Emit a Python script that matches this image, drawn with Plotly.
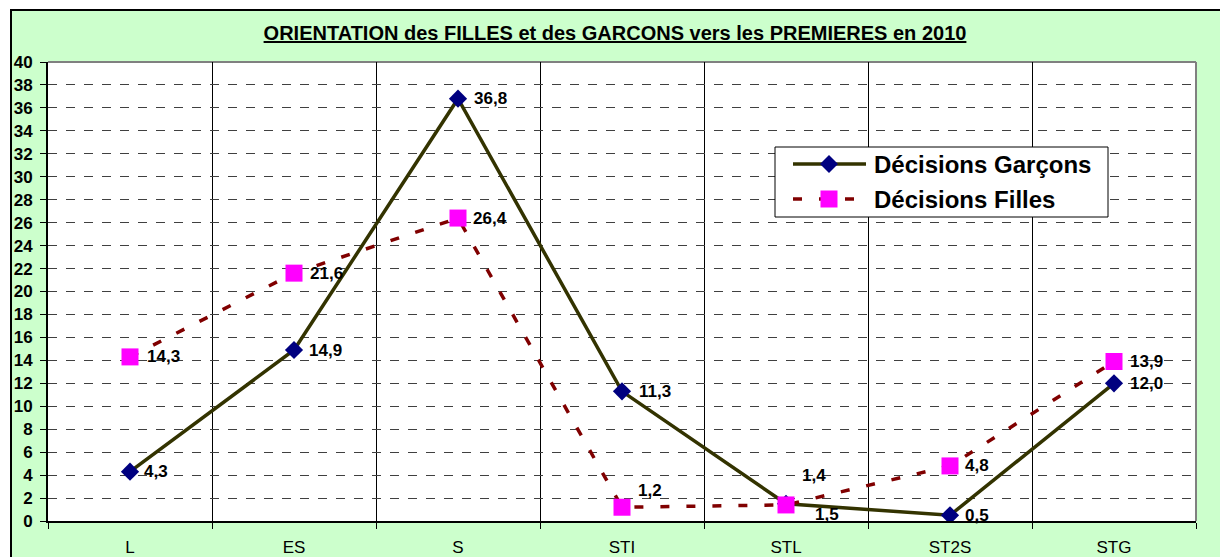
import plotly.graph_objects as go

# Sections of "Première" and decision rates (%) for boys and girls, 2010
categories = ["L", "ES", "S", "STI", "STL", "ST2S", "STG"]
garcons = [4.3, 14.9, 36.8, 11.3, 1.5, 0.5, 12.0]
filles = [14.3, 21.6, 26.4, 1.2, 1.4, 4.8, 13.9]
y_ticks = list(range(0, 41, 2))
series_names = ["Décisions Garçons", "Décisions Filles"]

W, H = 1220, 557
L_M, R_M, T_M, B_M = 48, 24, 62, 36
PW = W - L_M - R_M
PH = H - T_M - B_M


def px_x(px):
    """pixel column -> paper x"""
    return (px - L_M) / PW


def px_y(py):
    """pixel row -> paper y"""
    return (H - B_M - py) / PH


FONT = "Liberation Sans, Arial, sans-serif"
G_LINE, G_MARK = "#333300", "#000080"
F_LINE, F_MARK = "#800000", "#FF00FF"
F_DASH = "9px,17px"

fig = go.Figure()

fig.add_trace(go.Scatter(
    x=categories, y=garcons, name=series_names[0],
    mode="lines+markers",
    line=dict(color=G_LINE, width=3.5),
    marker=dict(symbol="diamond", size=14, color=G_MARK, line=dict(width=0)),
))
fig.add_trace(go.Scatter(
    x=categories, y=filles, name=series_names[1],
    mode="lines+markers",
    line=dict(color=F_LINE, width=3.5, dash=F_DASH),
    marker=dict(symbol="square", size=17, color=F_MARK, line=dict(width=0)),
))


# value labels (French decimal comma), with per-point offsets
def fmt(v):
    return f"{v:.1f}".replace(".", ",")


g_shift = [(12, 0), (13, 0), (14, 0), (15, 0), (27, -11), (13, 0), (14, 0)]
f_shift = [(15, 0), (14, 0), (13, 0), (14, 17), (14, 29), (13, 0), (14, 0)]

annotations = []
for values, shifts in ((garcons, g_shift), (filles, f_shift)):
    for cat, v, (dx, dy) in zip(categories, values, shifts):
        annotations.append(dict(
            x=cat, y=v, text=f"<b>{fmt(v)}</b>", showarrow=False,
            xanchor="left", yanchor="middle", xshift=dx, yshift=dy,
            font=dict(family=FONT, size=17, color="black")))

shapes = [
    # white margin outside the chart frame
    dict(type="rect", xref="paper", yref="paper", layer="below",
         x0=-1, x1=px_x(11), y0=-1, y1=2,
         fillcolor="white", line=dict(width=0)),
    dict(type="rect", xref="paper", yref="paper", layer="below",
         x0=-1, x1=2, y0=px_y(10), y1=2,
         fillcolor="white", line=dict(width=0)),
    # chart frame
    dict(type="line", xref="paper", yref="paper",
         x0=px_x(10), x1=2, y0=px_y(10), y1=px_y(10),
         line=dict(color="black", width=2)),
    dict(type="line", xref="paper", yref="paper",
         x0=px_x(11), x1=px_x(11), y0=-1, y1=px_y(10),
         line=dict(color="black", width=2)),
    # grey border of the plot area
    dict(type="line", xref="paper", yref="paper", layer="below",
         x0=0, x1=1, y0=1, y1=1, line=dict(color="#808080", width=2)),
    dict(type="line", xref="paper", yref="paper", layer="below",
         x0=1, x1=1, y0=0, y1=1, line=dict(color="#808080", width=2)),
]

# legend box, drawn by hand so that the sample lines are long
LX0, LX1, LY0, LY1 = 775, 1108, 147, 217
ROW_Y = [164, 199]
SAMPLE_X0, SAMPLE_X1, SAMPLE_CX = 793, 866, 829
TEXT_X = 872


def poly_path(points):
    return "M " + " L ".join(f"{px_x(x):.5f},{px_y(y):.5f}" for x, y in points) + " Z"


shapes.append(dict(type="rect", xref="paper", yref="paper",
                   x0=px_x(LX0), x1=px_x(LX1), y0=px_y(LY1), y1=px_y(LY0),
                   fillcolor="white", line=dict(color="black", width=1)))
# Garçons sample
shapes.append(dict(type="line", xref="paper", yref="paper",
                   x0=px_x(SAMPLE_X0), x1=px_x(SAMPLE_X1), y0=px_y(ROW_Y[0]), y1=px_y(ROW_Y[0]),
                   line=dict(color=G_LINE, width=3.5)))
d = 9
shapes.append(dict(type="path", xref="paper", yref="paper",
                   path=poly_path([(SAMPLE_CX - d, ROW_Y[0]), (SAMPLE_CX, ROW_Y[0] - d),
                                   (SAMPLE_CX + d, ROW_Y[0]), (SAMPLE_CX, ROW_Y[0] + d)]),
                   fillcolor=G_MARK, line=dict(width=0)))
# Filles sample
shapes.append(dict(type="line", xref="paper", yref="paper",
                   x0=px_x(SAMPLE_X0), x1=px_x(SAMPLE_X1), y0=px_y(ROW_Y[1]), y1=px_y(ROW_Y[1]),
                   line=dict(color=F_LINE, width=3.5, dash=F_DASH)))
s = 8.5
shapes.append(dict(type="rect", xref="paper", yref="paper",
                   x0=px_x(SAMPLE_CX - s), x1=px_x(SAMPLE_CX + s),
                   y0=px_y(ROW_Y[1] + s), y1=px_y(ROW_Y[1] - s),
                   fillcolor=F_MARK, line=dict(width=0)))
for name, ry in zip(series_names, ROW_Y):
    annotations.append(dict(x=px_x(TEXT_X), y=px_y(ry), xref="paper", yref="paper",
                            text=f"<b>{name}</b>", showarrow=False,
                            xanchor="left", yanchor="middle",
                            font=dict(family=FONT, size=24, color="black")))

fig.update_layout(
    width=W, height=H,
    margin=dict(l=L_M, r=R_M, t=T_M, b=B_M, autoexpand=False),
    paper_bgcolor="#CCFFCC",
    plot_bgcolor="white",
    font=dict(family=FONT, color="black"),
    title=dict(
        text="<b><u>ORIENTATION des FILLES et des GARCONS vers les PREMIERES en 2010</u></b>",
        x=615 / W, xanchor="center", y=1 - 33 / H, yanchor="middle",
        font=dict(family=FONT, size=20, color="black"),
    ),
    showlegend=False,
    xaxis=dict(
        type="category", categoryorder="array", categoryarray=categories,
        range=[-0.5, len(categories) - 0.5],
        tickson="boundaries", ticks="outside", ticklen=6, tickcolor="black",
        showgrid=True, gridcolor="black", gridwidth=1,
        showline=True, linecolor="black", linewidth=2,
        tickfont=dict(family=FONT, size=17, color="black"),
        ticklabelstandoff=10, automargin=False,
        zeroline=False, fixedrange=True,
    ),
    yaxis=dict(
        range=[0, 40], tickvals=y_ticks,
        ticks="outside", ticklen=6, tickcolor="black",
        showgrid=True, gridcolor="#404040", gridwidth=1, griddash="dash",
        showline=True, linecolor="black", linewidth=2,
        tickfont=dict(family=FONT, size=17, color="black", weight="bold"),
        ticklabelstandoff=4, automargin=False,
        zeroline=False, fixedrange=True,
    ),
    annotations=annotations,
    shapes=shapes,
)

fig.write_html("out.html")
